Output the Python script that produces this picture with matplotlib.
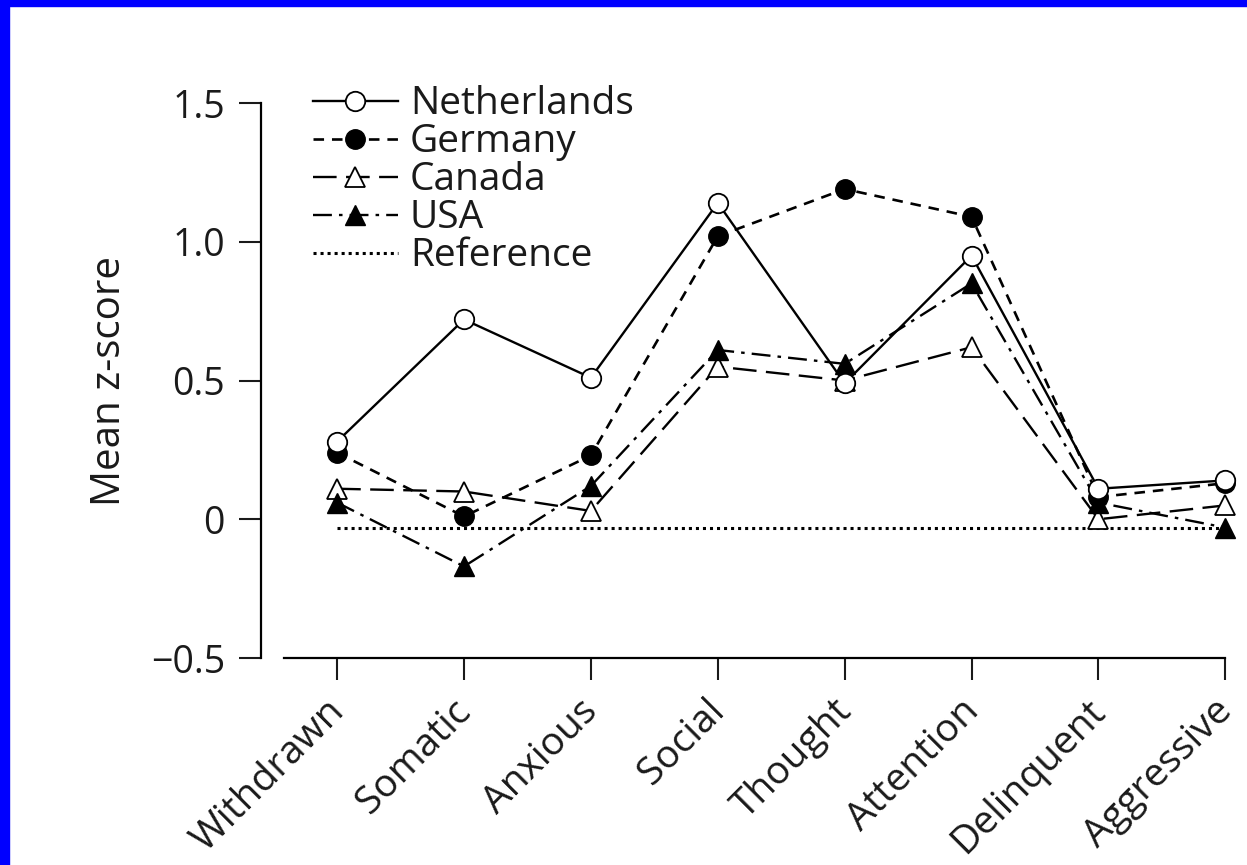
import matplotlib.pyplot as plt
import matplotlib.transforms as mtransforms
from matplotlib.patches import Rectangle

# Data
scales = ["Withdrawn", "Somatic", "Anxious", "Social", "Thought",
          "Attention", "Delinquent", "Aggressive"]
netherlands = [0.28, 0.72, 0.51, 1.14, 0.49, 0.95, 0.11, 0.14]
germany = [0.24, 0.01, 0.23, 1.02, 1.19, 1.09, 0.08, 0.13]
canada = [0.11, 0.10, 0.03, 0.55, 0.50, 0.62, 0.00, 0.05]
usa = [0.06, -0.17, 0.12, 0.61, 0.56, 0.85, 0.06, -0.03]
reference = [-0.03] * len(scales)

plt.rcParams['font.family'] = ['Open Sans', 'DejaVu Sans']
txt = "#1a1a1a"

fig = plt.figure(figsize=(12.47, 8.65), dpi=100)
fig.patch.set_facecolor("white")

# blue frame at top and left
fig.patches.append(Rectangle((0, 1 - 6 / 865), 1, 6 / 865, transform=fig.transFigure,
                             color="#0000ff", zorder=0))
fig.patches.append(Rectangle((0, 0), 9 / 1247, 1, transform=fig.transFigure,
                             color="#0000ff", zorder=0))

ax = fig.add_axes([0.2093, 0.2393, 0.7835, 0.6416])
x = list(range(len(scales)))

ms = 14
ax.plot(x, netherlands, color="black", lw=1.7, ls="-", marker="o", ms=ms,
        mfc="white", mec="black", mew=1.3, label="Netherlands", zorder=5)
ax.plot(x, germany, color="black", lw=1.9, ls=(0, (4, 3)), marker="o", ms=ms,
        mfc="black", mec="black", label="Germany", zorder=4)
ax.plot(x, canada, color="black", lw=1.7, ls=(0, (10, 4)), marker="^", ms=ms,
        mfc="white", mec="black", mew=1.3, label="Canada", zorder=3)
ax.plot(x, usa, color="black", lw=1.7, ls=(0, (8, 3, 1.5, 3)), marker="^", ms=ms,
        mfc="black", mec="black", label="USA", zorder=3)
ax.plot(x, reference, color="black", lw=2.2, ls=(0, (1, 1.3)), label="Reference", zorder=2)

ax.set_xlim(-0.6, 7.1)
ax.set_ylim(-0.5, 1.5)
ax.set_yticks([-0.5, 0, 0.5, 1.0, 1.5])
ax.set_yticklabels(["\u22120.5", "0", "0.5", "1.0", "1.5"])
ax.set_xticks(x)
ax.set_xticklabels([])

# rotated category labels, placed just under the tick marks
lab_trans = ax.get_xaxis_transform() + mtransforms.ScaledTranslation(
    -12 / 100, -34 / 100, fig.dpi_scale_trans)
for i, name in enumerate(scales):
    ax.text(i, 0, name, transform=lab_trans, rotation=45, ha="right", va="top",
            rotation_mode="anchor", fontsize=28, color=txt)

for side in ["top", "right"]:
    ax.spines[side].set_visible(False)
ax.spines["left"].set_linewidth(1.6)
ax.spines["bottom"].set_linewidth(1.6)
ax.spines["bottom"].set_bounds(-0.42, 7)

ax.tick_params(axis="both", length=16, width=1.5, colors=txt)
ax.tick_params(axis="y", pad=10, labelsize=27)

ax.set_ylabel("Mean z-score", fontsize=29, color=txt)
ax.yaxis.set_label_coords(-0.134, 0.5)

leg = ax.legend(loc="upper left", bbox_to_anchor=(0.037, 1.06), frameon=False,
                fontsize=28, handlelength=2.2, handletextpad=0.3,
                labelspacing=0.0, borderaxespad=0)
for t in leg.get_texts():
    t.set_color(txt)

fig.savefig("out.png", dpi=100)
